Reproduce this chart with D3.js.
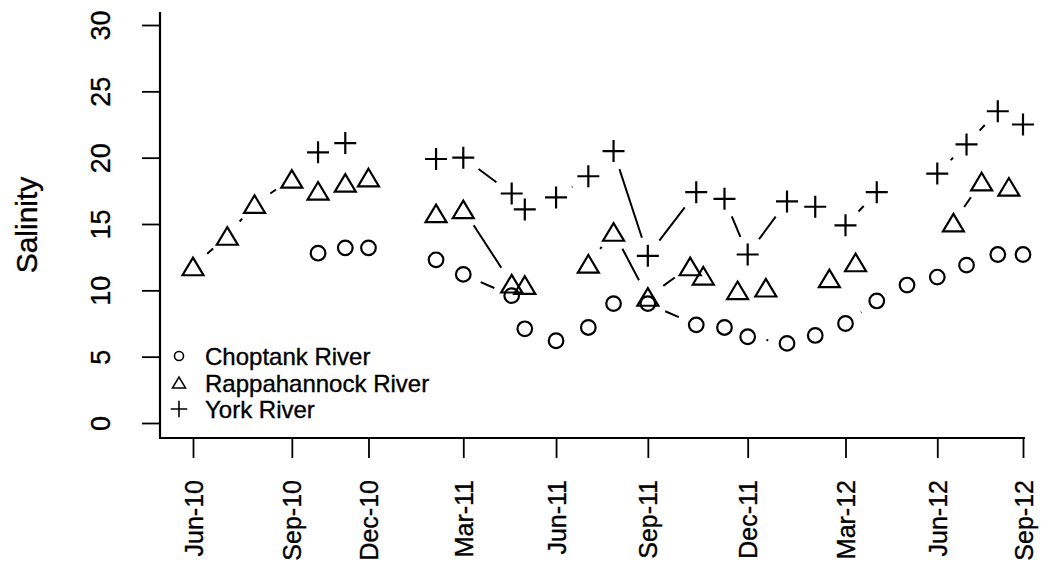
<!DOCTYPE html>
<html>
<head>
<meta charset="utf-8">
<script src="https://cdn.jsdelivr.net/npm/d3@7"></script>
<style>
  body { margin: 0; background: #fff; }
  svg text { font-family: "Liberation Sans", Arial, Helvetica, sans-serif; fill: #000; stroke: #000; stroke-width: 0.35px; }
</style>
</head>
<body>
<svg width="1048" height="580" viewBox="0 0 1048 580"></svg>
<script>
// Sampling dates shared by Choptank and York (null = no sample)
const sampleDates = ["2010-10-03", "2010-10-30", "2010-11-22", "2010-12-27",
    "2011-01-28", "2011-02-24", "2011-04-13", "2011-04-26", "2011-05-27", "2011-06-28",
    "2011-07-23", "2011-08-26", "2011-10-13", "2011-11-10", "2011-12-03",
    "2012-01-11", "2012-02-08", "2012-03-09", "2012-04-09", "2012-05-09", "2012-06-08",
    "2012-07-07", "2012-08-07", "2012-09-01"];
const choptank = [12.8, 13.2, 13.2, null,
    12.3, 11.2, 9.6, 7.1, 6.2, 7.2, 9.0, 9.0, 7.4, 7.2, 6.5,
    6.0, 6.6, 7.5, 9.2, 10.4, 11.0, 11.9, 12.7, 12.7];
const york = [20.4, 21.1, null, null,
    19.9, 20.0, 17.3, 16.1, 17.0, 18.6, 20.5, 12.6, 17.4, 16.9, 12.7,
    16.7, 16.3, 14.9, 17.4, null, 18.8, 21.0, 23.5, 22.5];

// Rappahannock was sampled on its own schedule
const rappDates = ["2010-06-01", "2010-07-05", "2010-08-01", "2010-09-07", "2010-10-03",
    "2010-10-30", "2010-11-22", "2010-12-27",
    "2011-01-28", "2011-02-24", "2011-04-13", "2011-04-26", "2011-05-27", "2011-06-28",
    "2011-07-23", "2011-08-26", "2011-10-07", "2011-10-20", "2011-11-23", "2011-12-21",
    "2012-01-11", "2012-02-22", "2012-03-19", "2012-05-09", "2012-06-24", "2012-07-22",
    "2012-08-18"];
const rappahannock = [11.8, 14.1, 16.5, 18.4, 17.5, 18.1, 18.5, null,
    15.8, 16.1, 10.5, 10.4, null, 12.0, 14.4, 9.5, 11.8, 11.1, 10.0, 10.2,
    null, 10.9, 12.1, null, 15.1, 18.2, 17.8];

const tickDates = ["2010-06-01", "2010-09-07", "2010-11-22", "2011-02-24", "2011-05-27",
    "2011-08-26", "2011-12-03", "2012-03-09", "2012-06-08", "2012-09-01"];
const tickLabels = ["Jun-10", "Sep-10", "Dec-10", "Mar-11", "Jun-11",
    "Sep-11", "Dec-11", "Mar-12", "Jun-12", "Sep-12"];
const yTicks = [0, 5, 10, 15, 20, 25, 30];

const parse = d3.utcParse("%Y-%m-%d");

const series = [
    { name: "Choptank River", dates: sampleDates, values: choptank, shape: "circle" },
    { name: "Rappahannock River", dates: rappDates, values: rappahannock, shape: "triangle" },
    { name: "York River", dates: sampleDates, values: york, shape: "plus" }
];

const svg = d3.select("svg");

// plot frame (R style, bty = "l")
const frame = { left: 160, bottom: 438, top: 12, right: 1025 };

const x = d3.scaleUtc()
    .domain([parse("2010-06-01"), parse("2012-09-01")])
    .range([193, 1023]);

const y = d3.scaleLinear()
    .domain([0, 30])
    .range([423, 25]);

// draw one marker shape, s = scale factor
const drawMark = (g, shape, s) => {
    if (shape === "circle") {
        g.append("circle").attr("r", 7.3 * s);
    } else if (shape === "triangle") {
        const w = 10.5 * s, h = 8.8 * s;
        g.append("path").attr("d", `M0,${-h}L${w},${h}L${-w},${h}Z`);
    } else {
        const a = 11 * s;
        g.append("path").attr("d", `M${-a},0H${a}M0,${-a}V${a}`);
    }
    g.selectAll("circle, path")
        .attr("fill", "none")
        .attr("stroke", "#000")
        .attr("stroke-width", 2.2);
};

// Axes
const yAxis = svg.append("g")
    .attr("transform", `translate(${frame.left},0)`)
    .call(d3.axisLeft(y).tickValues(yTicks).tickSize(18).tickSizeOuter(0));
yAxis.select(".domain").remove();
yAxis.selectAll("line").attr("stroke", "#000").attr("stroke-width", 1.8);
yAxis.selectAll("text")
    .attr("x", null).attr("dy", null)
    .attr("transform", "translate(-50,0) rotate(-90)")
    .attr("text-anchor", "middle")
    .style("font-size", "27px");

const xAxis = svg.append("g")
    .attr("transform", `translate(0,${frame.bottom})`)
    .call(d3.axisBottom(x)
        .tickValues(tickDates.map(parse))
        .tickFormat((d, i) => tickLabels[i])
        .tickSize(20).tickSizeOuter(0));
xAxis.select(".domain").remove();
xAxis.selectAll("line").attr("stroke", "#000").attr("stroke-width", 1.8);
xAxis.selectAll("text")
    .attr("y", null).attr("dy", null)
    .attr("transform", "translate(9,42) rotate(-90)")
    .attr("text-anchor", "end")
    .style("font-size", "25px");

// box lines
svg.append("path")
    .attr("d", `M${frame.left},${frame.top}V${frame.bottom}H${frame.right}`)
    .attr("fill", "none")
    .attr("stroke", "#000")
    .attr("stroke-width", 2.2);

svg.append("text")
    .attr("transform", `translate(37,${(frame.top + frame.bottom) / 2}) rotate(-90)`)
    .attr("text-anchor", "middle")
    .style("font-size", "30px")
    .text("Salinity");

// Series: type "b" lines (gap around each point) and markers
const gap = 19;
const plot = svg.append("g");

series.forEach(s => {
    const pts = s.dates.map((d, i) => ({ x: x(parse(d)), y: s.values[i] == null ? null : y(s.values[i]) }));

    for (let i = 0; i < pts.length - 1; i++) {
        const a = pts[i], b = pts[i + 1];
        if (a.y == null || b.y == null) continue;
        const dx = b.x - a.x, dy = b.y - a.y;
        const len = Math.hypot(dx, dy);
        if (len <= 2 * gap) continue;
        const ux = dx / len, uy = dy / len;
        plot.append("line")
            .attr("x1", a.x + ux * gap).attr("y1", a.y + uy * gap)
            .attr("x2", b.x - ux * gap).attr("y2", b.y - uy * gap)
            .attr("stroke", "#000")
            .attr("stroke-width", 2);
    }

    pts.filter(p => p.y != null).forEach(p => {
        drawMark(plot.append("g").attr("transform", `translate(${p.x},${p.y})`), s.shape, 1);
    });
});

// Legend
const legend = svg.append("g").attr("transform", "translate(179,356)");
series.forEach((s, i) => {
    const row = legend.append("g").attr("transform", `translate(0,${i * 26.5})`);
    const scale = s.shape === "plus" ? 0.75 : 0.62;
    drawMark(row.append("g"), s.shape, scale);
    row.selectAll("circle, path").attr("stroke-width", 1.6);
    row.append("text")
        .attr("x", 26)
        .attr("y", 9)
        .style("font-size", "24px")
        .text(s.name);
});
</script>
</body>
</html>
